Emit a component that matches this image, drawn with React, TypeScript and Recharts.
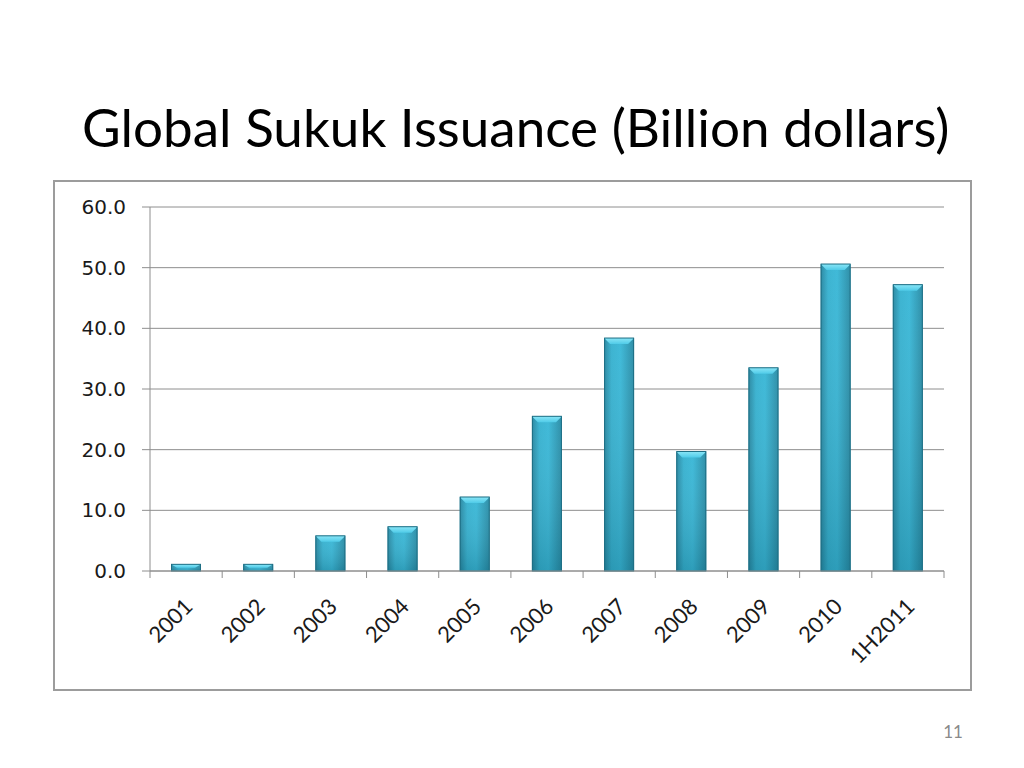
import React from "react";
import { BarChart, Bar, XAxis, YAxis, CartesianGrid } from "recharts";

// Global Sukuk issuance, billion dollars
const periods = ["2001", "2002", "2003", "2004", "2005", "2006", "2007", "2008", "2009", "2010", "1H2011"];
const issuance = [1.1, 1.1, 5.8, 7.3, 12.2, 25.5, 38.4, 19.7, 33.5, 50.6, 47.2];
const yTicks = [0, 10, 20, 30, 40, 50, 60];

const data = periods.map((period, i) => ({ period, value: issuance[i] }));

const GRID = "#8e8e8e";

const BevelBar = (props: any) => {
  const { x, y, width, height } = props;
  if (!height || height <= 0) return null;
  const cap = Math.min(6, height / 2);
  return (
    <g>
      <rect x={x} y={y} width={width} height={height} fill="url(#barBody)" />
      <rect x={x} y={y} width={width} height={height} fill="url(#barShade)" />
      <path
        d={`M${x},${y} L${x + width},${y} L${x + width - 6},${y + cap} L${x + 6},${y + cap} Z`}
        fill="url(#barCap)"
      />
      <rect x={x + 0.5} y={y} width={width - 1} height={height} fill="none" stroke="#1e6e84" strokeWidth={1} />
    </g>
  );
};

const PeriodTick = (props: any) => {
  const { x, y, payload, index } = props;
  const half = payload && payload.offset ? payload.offset : 36.1;
  const axisY = y - 6;
  return (
    <g>
      <line x1={x - half} y1={axisY} x2={x - half} y2={axisY + 7} stroke={GRID} />
      {index === periods.length - 1 && (
        <line x1={x + half} y1={axisY} x2={x + half} y2={axisY + 7} stroke={GRID} />
      )}
      <text
        x={0}
        y={0}
        transform={`translate(${x + 8},${axisY + 37}) rotate(-45)`}
        textAnchor="end"
        fontFamily="Lato, 'Open Sans', sans-serif"
        fontSize={22}
        fill="#1a1a1a"
      >
        {payload.value}
      </text>
    </g>
  );
};

export default function App() {
  return (
    <div style={{ position: "absolute", left: 0, top: 0, width: 1024, height: 768, background: "#fff" }}>
      <svg width={1024} height={768} style={{ position: "absolute", left: 0, top: 0 }}>
        <text x={82} y={147} fontFamily="Lato, 'Open Sans', sans-serif" fontSize={53} fill="#000">
          Global Sukuk Issuance (Billion dollars)
        </text>
        <text x={953} y={738} textAnchor="middle" fontFamily="Lato, 'Open Sans', sans-serif" fontSize={17} fill="#8a8a8a">
          11
        </text>
      </svg>
      <div
        style={{
          position: "absolute",
          left: 53,
          top: 180,
          width: 919,
          height: 511,
          boxSizing: "border-box",
          border: "2px solid #9c9c9c",
          background: "#fff",
        }}
      />
      <div style={{ position: "absolute", left: 53, top: 180 }}>
        <BarChart width={919} height={511} data={data} margin={{ top: 27, right: 28, left: 0, bottom: 0 }}>
          <defs>
            <linearGradient id="barBody" x1="0" y1="0" x2="1" y2="0">
              <stop offset="0%" stopColor="#23849e" />
              <stop offset="25%" stopColor="#33b0cf" />
              <stop offset="55%" stopColor="#36b6d6" />
              <stop offset="100%" stopColor="#2589a3" />
            </linearGradient>
            <linearGradient id="barShade" x1="0" y1="0" x2="0" y2="1">
              <stop offset="0%" stopColor="#ffffff" stopOpacity={0.05} />
              <stop offset="100%" stopColor="#0a3a48" stopOpacity={0.2} />
            </linearGradient>
            <linearGradient id="barCap" x1="0" y1="0" x2="0" y2="1">
              <stop offset="0%" stopColor="#8ae6f7" />
              <stop offset="100%" stopColor="#4fcbe8" />
            </linearGradient>
          </defs>
          <CartesianGrid vertical={false} stroke={GRID} />
          <XAxis
            dataKey="period"
            interval={0}
            height={120}
            axisLine={{ stroke: GRID }}
            tickLine={false}
            tickSize={6}
            tickMargin={0}
            tick={<PeriodTick />}
          />
          <YAxis
            domain={[0, 60]}
            ticks={yTicks}
            width={97}
            tickFormatter={(v: number) => v.toFixed(1)}
            axisLine={{ stroke: GRID }}
            tickLine={{ stroke: GRID }}
            tickSize={8}
            tickMargin={16}
            tick={{ fontSize: 20, fill: "#1a1a1a", fontFamily: "'DejaVu Sans', Verdana, sans-serif" }}
          />
          <Bar dataKey="value" barSize={30} shape={<BevelBar />} isAnimationActive={false} />
        </BarChart>
      </div>
    </div>
  );
}
